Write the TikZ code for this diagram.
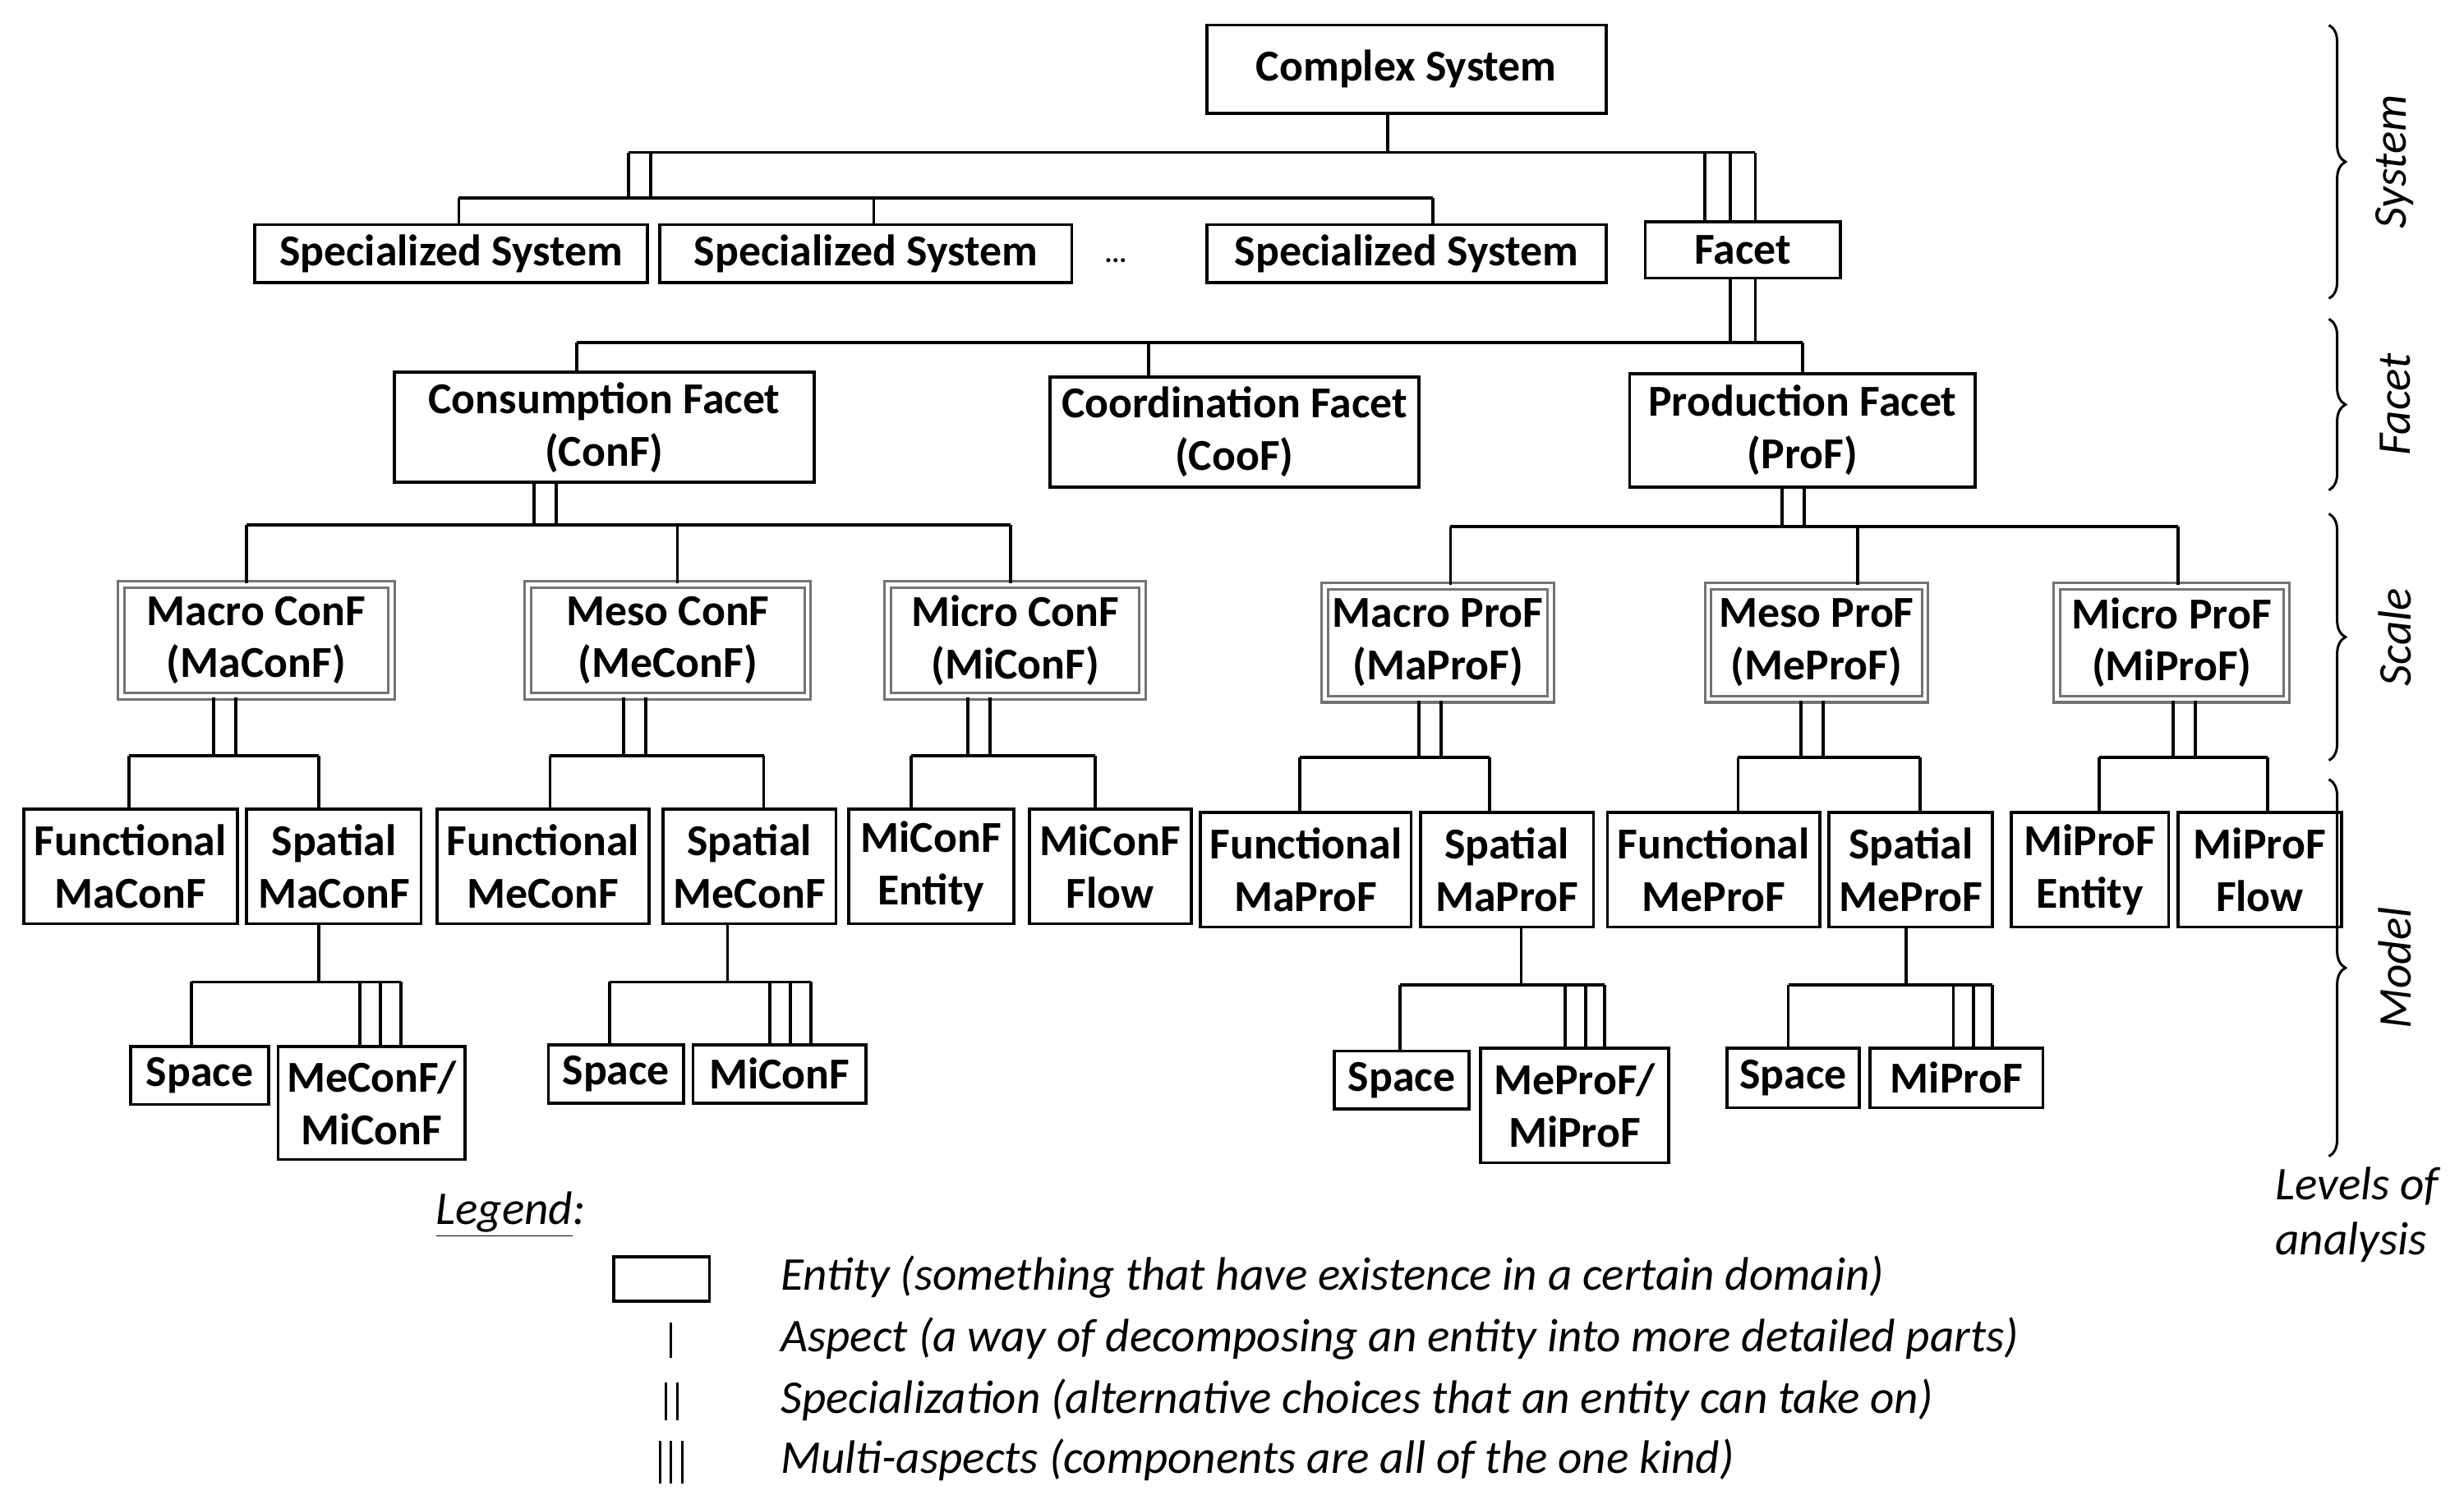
\documentclass[tikz,border=0pt]{standalone}
\usepackage{fontspec}
\setmainfont{Carlito}
\usetikzlibrary{decorations.pathreplacing}
\begin{document}
\begin{tikzpicture}[x=0.02cm, y=-0.02cm, line width=1.1pt]
			\tikzstyle{ent}   = [draw=black, rectangle, inner sep=0pt, align=center, font=\bfseries\fontsize{16}{19}\selectfont]
			\tikzstyle{scl}   = [ent, draw=black!55, double=white, double distance=1.4pt, line width=0.9pt]
			\tikzstyle{lvl}   = [font=\itshape\fontsize{17}{20}\selectfont]
			\tikzstyle{lvlbr} = [decorate, decoration={brace, amplitude=6pt}, line width=0.9pt]

			\useasboundingbox (0,0) rectangle (1568,960);

			% entities
			\foreach \nm/\xa/\ya/\xb/\yb/\txt in {cs/768/16/1022/72/Complex System,
				ss1/162/143/412/180/Specialized System, ss2/420/143/682/180/Specialized System, ss3/768/143/1022/180/Specialized System, fac/1047/141/1171/177/Facet,
				conf/251/237/518/307/{Consumption Facet\\(ConF)}, coof/668/240/903/310/{Coordination Facet\\(CooF)}, prof/1037/238/1257/310/{Production Facet\\(ProF)},
				fmaconf/15/515/151/588/{Functional\\MaConF}, smaconf/157/515/268/588/{Spatial\\MaConF}, fmeconf/278/515/413/588/{Functional\\MeConF}, smeconf/422/515/532/588/{Spatial\\MeConF},
				micentity/540/515/645/588/{MiConF\\Entity}, micflow/655/515/758/588/{MiConF\\Flow},
				fmaprof/764/517/898/590/{Functional\\MaProF}, smaprof/904/517/1014/590/{Spatial\\MaProF}, fmeprof/1023/517/1158/590/{Functional\\MeProF}, smeprof/1164/517/1268/590/{Spatial\\MeProF},
				mipentity/1280/517/1380/590/{MiProF\\Entity}, mipflow/1386/517/1490/590/{MiProF\\Flow},
				sp1/83/666/171/703/Space, mm1/177/666/296/738/{MeConF/\\MiConF}, sp2/349/665/435/702/Space, mm2/441/665/551/702/MiConF,
				sp3/849/669/935/706/Space, mm3/942/667/1062/740/{MeProF/\\MiProF}, sp4/1099/667/1183/705/Space, mm4/1190/667/1300/705/MiProF}
				\node[ent, minimum width={(\xb-\xa)*0.02cm}, minimum height={(\yb-\ya)*0.02cm}] (\nm) at ({(\xa+\xb)/2},{(\ya+\yb)/2}) {\txt};

			% scales
			\foreach \nm/\xa/\ya/\xb/\yb/\txt in {maconf/77/372/249/443/{Macro ConF\\(MaConF)}, meconf/336/372/514/443/{Meso ConF\\(MeConF)}, miconf/565/372/727/443/{Micro ConF\\(MiConF)},
				maprof/843/373/987/445/{Macro ProF\\(MaProF)}, meprof/1087/373/1225/445/{Meso ProF\\(MeProF)}, miprof/1309/373/1455/445/{Micro ProF\\(MiProF)}}
				\node[scl, minimum width={(\xb-\xa)*0.02cm}, minimum height={(\yb-\ya)*0.02cm}] (\nm) at ({(\xa+\xb)/2},{(\ya+\yb)/2}) {\txt};

			\node at (710,166) {\bfseries ...};

			% buses
			\foreach \nm/\y/\xa/\xb in {bA/97/400/1117, bB/126/292/912, bC/218/367/1147, bD/334/157/643, bE/335/923/1386,
				bF/481/82/203, bG/481/350/486, bH/481/580/697, bI/482/827/948, bJ/482/1106/1222, bK/482/1336/1443,
				bL/625/122/255, bM/625/388/516, bN/627/891/1021, bO/627/1138/1268}
				{\coordinate (\nm) at (0,\y);
				\draw (\xa,0 |- \nm) -- (\xb,0 |- \nm);}

			% links
			\foreach \x/\a/\b in {883/cs.south/bA, 400/bA/bB, 414/bA/bB, 292/bB/ss1.north, 556/bB/ss2.north, 912/bB/ss3.north,
				1085/bA/fac.north, 1101/bA/fac.north, 1117/bA/fac.north, 1101/fac.south/bC, 1117/fac.south/bC,
				367/bC/conf.north, 731/bC/coof.north, 1147/bC/prof.north,
				340/conf.south/bD, 354/conf.south/bD, 157/bD/maconf.north, 431/bD/meconf.north, 643/bD/miconf.north,
				1134/prof.south/bE, 1148/prof.south/bE, 923/bE/maprof.north, 1182/bE/meprof.north, 1386/bE/miprof.north,
				136/maconf.south/bF, 150/maconf.south/bF, 82/bF/fmaconf.north, 203/bF/smaconf.north,
				397/meconf.south/bG, 411/meconf.south/bG, 350/bG/fmeconf.north, 486/bG/smeconf.north,
				616/miconf.south/bH, 630/miconf.south/bH, 580/bH/micentity.north, 697/bH/micflow.north,
				903/maprof.south/bI, 917/maprof.south/bI, 827/bI/fmaprof.north, 948/bI/smaprof.north,
				1146/meprof.south/bJ, 1160/meprof.south/bJ, 1106/bJ/fmeprof.north, 1222/bJ/smeprof.north,
				1383/miprof.south/bK, 1397/miprof.south/bK, 1336/bK/mipentity.north, 1443/bK/mipflow.north,
				203/smaconf.south/bL, 122/bL/sp1.north, 229/bL/mm1.north, 242/bL/mm1.north, 255/bL/mm1.north,
				463/smeconf.south/bM, 388/bM/sp2.north, 490/bM/mm2.north, 503/bM/mm2.north, 516/bM/mm2.north,
				968/smaprof.south/bN, 891/bN/sp3.north, 996/bN/mm3.north, 1009/bN/mm3.north, 1021/bN/mm3.north,
				1213/smeprof.south/bO, 1138/bO/sp4.north, 1243/bO/mm4.north, 1256/bO/mm4.north, 1268/bO/mm4.north}
				\draw (\x,0 |- \a) -- (\x,0 |- \b);

			% levels of analysis
			\foreach \nm/\ya/\yb/\txt in {lsys/16/190/System, lfac/203/312/Facet, lscl/327/484/Scale, lmod/496/736/Model}
				{\draw[lvlbr] (1482,\ya) -- (1482,\yb);
				\node[lvl, rotate=90] (\nm) at (1524,{(\ya+\yb)/2}) {\txt};}
			\node[lvl, align=left] (lvls) at (1500,773) {Levels of\\analysis};

			% legend
			\node[lvl] (leg) at (325,773) {\underline{Legend}:};
			\node[draw, minimum width=1.22cm, minimum height=0.56cm, line width=1.1pt] (legent) at (421,814) {};
			\foreach \y/\txt in {813/Entity (something that have existence in a certain domain), 852/Aspect (a way of decomposing an entity into more detailed parts),
				891/Specialization (alternative choices that an entity can take on), 929/Multi-aspects (components are all of the one kind)}
				\node[lvl, anchor=west] at (490,\y) {\txt};
			\draw[line width=0.9pt] (427,842) -- (427,864);
			\foreach \x in {424,431} \draw[line width=0.9pt] (\x,880) -- (\x,904);
			\foreach \x in {420,427,434} \draw[line width=0.9pt] (\x,917) -- (\x,944);
\end{tikzpicture}
\end{document}
